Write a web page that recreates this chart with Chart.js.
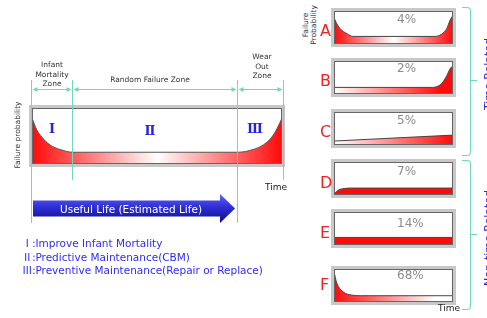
<!DOCTYPE html>
<html>
<head>
<meta charset="utf-8">
<title>Failure patterns</title>
<script src="https://cdn.jsdelivr.net/npm/chart.js@4.4.1/dist/chart.umd.min.js"></script>
<style>
  html, body { margin: 0; padding: 0; }
  body { position: relative; width: 487px; height: 318px; overflow: hidden; background: #fff; font-family: "DejaVu Sans", sans-serif; }
  canvas { position: absolute; }
  .t { position: absolute; white-space: nowrap; line-height: 1; }
  .c { transform: translate(-50%, -50%); text-align: center; }
  .r { transform: translate(-50%, -50%) rotate(-90deg); text-align: center; }
  .zone { font-size: 7.5px; color: #333; line-height: 9.5px; transform: translateX(-50%); text-align: center; }
  .roman { font: bold 13px "DejaVu Serif", serif; color: #2424e0; }
  .act { font-size: 10.5px; color: #2d2df2; left: 22px; transform: translateY(-50%); }
  .act span { font-family: "Noto Sans CJK JP", sans-serif; }
  .letter { font-size: 16px; color: #f02424; left: 320px; transform: translateY(-50%); }
  .share { font-size: 12px; color: #8c8c8c; left: 397px; transform: translateY(-50%); }
  .group { font-size: 11px; color: #2a2ae8; }
  .brace { position: absolute; border: 1px solid #6fd9bd; border-left: none; border-radius: 0 4px 4px 0; width: 8px; }
  .tick { position: absolute; border-top: 1px solid #6fd9bd; width: 6px; height: 0; }
</style>
</head>
<body>
<canvas id="main" width="300" height="318" style="left:0;top:0"></canvas>
<div id="minis"></div>

<div class="t zone" style="left:52px;top:60px">Infant<br>Mortality<br>Zone</div>
<div class="t zone" style="left:150px;top:75px">Random Failure Zone</div>
<div class="t zone" style="left:262px;top:52px">Wear<br>Out<br>Zone</div>
<div class="t r" style="left:18px;top:135px;font-size:7.5px;color:#333">Failure probability</div>
<div class="t" style="left:265px;top:183px;font-size:9px;color:#222">Time</div>
<div class="t c" style="left:131px;top:209px;font-size:10.5px;color:#fff">Useful Life (Estimated Life)</div>
<div id="romans"></div>
<div id="actions"></div>

<div class="t r" style="left:310px;top:25px;font-size:7.5px;line-height:8px;color:#333">Failure<br>Probability</div>
<div id="labels"></div>
<div class="t" style="left:438px;top:304px;font-size:9px;color:#222">Time</div>

<div class="brace" style="left:462px;top:7px;height:147px"></div>
<div class="tick" style="left:471px;top:80px"></div>
<div class="brace" style="left:462px;top:160px;height:148px"></div>
<div class="tick" style="left:471px;top:234px"></div>
<div class="t r group" style="left:488px;top:74px">Time Related</div>
<div class="t r group" style="left:488px;top:238px">Non-time Related</div>

<script>
// bathtub curve (x = % of life, y = % of box height)
const mainX = [0, 1.9, 3.9, 7.2, 11.2, 16.3, 82.5, 88.5, 92.5, 95.9, 98.1, 100];
const mainY = [82, 61, 48, 34, 26, 21, 21, 26, 34, 48, 64, 82];
const zoneEdges = [0, 16.4, 82.4, 100];
const romans = ['Ⅰ', 'Ⅱ', 'Ⅲ'];
const actions = ['Ⅰ:Improve Infant Mortality', 'Ⅱ:Predictive Maintenance(CBM)', 'Ⅲ:Preventive Maintenance(Repair or Replace)'];

// six failure patterns
const letters = ['A', 'B', 'C', 'D', 'E', 'F'];
const shares = ['4%', '2%', '5%', '7%', '14%', '68%'];
const patAx = [0, 1.7, 5, 11, 16, 85, 90.5, 94.7, 97.5, 100];
const patAy = [81, 66, 47, 31, 23, 23, 30, 46, 72, 87];
const patBx = [0, 83, 90.5, 94.7, 97.5, 100];
const patBy = [20, 20, 32, 55, 76, 86];
const patCx = [0, 100];
const patCy = [12, 30];
const patDx = [0, 2.3, 5, 9.2, 14, 100];
const patDy = [1, 11, 17, 20, 21, 21];
const patEx = [0, 100];
const patEy = [23, 23];
const patFx = [0, 2.3, 7.6, 14.9, 22, 100];
const patFy = [92, 58, 31, 21, 19, 19];

const TEAL = '#6fd9bd';
const RED = '#ff0a0a';

const pts = (xs, ys) => xs.map((x, i) => ({ x, y: ys[i] }));

function hGradient(stops) {
  return (c) => {
    const a = c.chart.chartArea;
    if (!a) return RED;
    const g = c.chart.ctx.createLinearGradient(a.left, 0, a.right, 0);
    stops.forEach(([o, col]) => g.addColorStop(o, col));
    return g;
  };
}
const redWhiteRed = [[0, RED], [0.5, '#ffffff'], [1, RED]];

// grey frame around a chart area
const frame = {
  id: 'frame',
  beforeDatasetsDraw(chart) {
    const { ctx, chartArea: a } = chart;
    ctx.save();
    ctx.strokeStyle = '#c8c8c8';
    ctx.lineWidth = 3;
    ctx.strokeRect(a.left - 1.5, a.top - 1.5, a.width + 3, a.height + 3);
    ctx.restore();
  },
  afterDatasetsDraw(chart) {
    const { ctx, chartArea: a } = chart;
    ctx.save();
    ctx.strokeStyle = '#666';
    ctx.lineWidth = 1;
    ctx.strokeRect(a.left + 0.5, a.top + 0.5, a.width - 1, a.height - 1);
    ctx.restore();
  }
};

// zone guides, dimension arrows and the useful life arrow
const zoneGuides = {
  id: 'zoneGuides',
  afterDraw(chart) {
    const { ctx, scales: { x } } = chart;
    ctx.save();
    ctx.strokeStyle = TEAL;
    ctx.fillStyle = TEAL;
    ctx.lineWidth = 1;
    const last = zoneEdges.length - 1;
    const edgePx = (i) => Math.round(x.getPixelForValue(zoneEdges[i])) + (i === last ? 1.5 : -0.5);
    zoneEdges.forEach((v, i) => {
      const px = edgePx(i);
      const long = i === 0 || i === 2;
      ctx.beginPath();
      ctx.moveTo(px, 80);
      ctx.lineTo(px, long ? 223 : 180);
      ctx.stroke();
    });
    const y = 89.5;
    const head = (px, dir) => {
      ctx.beginPath();
      ctx.moveTo(px, y);
      ctx.lineTo(px + dir * 5, y - 2.5);
      ctx.lineTo(px + dir * 5, y + 2.5);
      ctx.closePath();
      ctx.fill();
    };
    for (let i = 0; i < last; i++) {
      const x0 = edgePx(i) + 1;
      const x1 = edgePx(i + 1) - 1;
      ctx.beginPath();
      ctx.moveTo(x0 + 4, y);
      ctx.lineTo(x1 - 4, y);
      ctx.stroke();
      head(x0, 1);
      head(x1, -1);
    }

    // Useful Life arrow ends just before the wear-out boundary
    const ax0 = x.getPixelForValue(0) + 1;
    const tip = x.getPixelForValue(zoneEdges[2]) - 3;
    const base = tip - 15;
    const cy = 208.5;
    const g = ctx.createLinearGradient(0, cy - 14, 0, cy + 14);
    g.addColorStop(0, '#6262f0');
    g.addColorStop(0.45, '#2e2ed6');
    g.addColorStop(1, '#0e0e8a');
    ctx.fillStyle = g;
    ctx.beginPath();
    ctx.moveTo(ax0, cy - 8);
    ctx.lineTo(base, cy - 8);
    ctx.lineTo(base, cy - 14.5);
    ctx.lineTo(tip, cy);
    ctx.lineTo(base, cy + 14.5);
    ctx.lineTo(base, cy + 8);
    ctx.lineTo(ax0, cy + 8);
    ctx.closePath();
    ctx.fill();
    ctx.restore();
  }
};

function baseOptions(padding) {
  return {
    responsive: false,
    animation: false,
    layout: { padding },
    plugins: { legend: { display: false }, tooltip: { enabled: false } },
    scales: {
      x: { type: 'linear', min: 0, max: 100, display: false },
      y: { min: 0, max: 100, display: false }
    },
    elements: { point: { radius: 0 }, line: { cubicInterpolationMode: 'monotone' } }
  };
}

new Chart(document.getElementById('main'), {
  type: 'line',
  data: {
    datasets: [{
      data: pts(mainX, mainY),
      borderColor: '#555',
      borderWidth: 1,
      fill: 'origin',
      backgroundColor: hGradient(redWhiteRed)
    }]
  },
  options: baseOptions({ left: 32, right: 18, top: 108, bottom: 154 }),
  plugins: [frame, zoneGuides]
});

// small pattern charts
const patterns = [
  [patAx, patAy, hGradient(redWhiteRed)],
  [patBx, patBy, hGradient([[0, '#ffffff'], [0.9, RED], [1, RED]])],
  [patCx, patCy, hGradient([[0, '#ffffff'], [1, RED]])],
  [patDx, patDy, RED],
  [patEx, patEy, RED],
  [patFx, patFy, hGradient([[0, RED], [0.85, '#ffffff'], [1, '#ffffff']])]
];
const boxTops = [11, 61, 112, 162, 212, 269];
const letterY = [31, 80.5, 131.5, 182.5, 233, 284.5];
const shareY = [19, 68, 120, 171, 223, 275];
const minis = document.getElementById('minis');
const labels = document.getElementById('labels');

patterns.forEach(([xs, ys, fill], i) => {
  const cv = document.createElement('canvas');
  cv.width = 127;
  cv.height = 41;
  cv.style.left = '330px';
  cv.style.top = (boxTops[i] - 4) + 'px';
  minis.appendChild(cv);
  new Chart(cv, {
    type: 'line',
    data: {
      datasets: [{
        data: pts(xs, ys),
        borderColor: '#444',
        borderWidth: 1,
        fill: 'origin',
        backgroundColor: fill
      }]
    },
    options: baseOptions(4),
    plugins: [frame]
  });

  const l = document.createElement('div');
  l.className = 't letter';
  l.style.top = letterY[i] + 'px';
  l.textContent = letters[i];
  labels.appendChild(l);

  const s = document.createElement('div');
  s.className = 't share';
  s.style.top = shareY[i] + 'px';
  s.textContent = shares[i];
  labels.appendChild(s);
});

// roman numerals inside the zones and the maintenance key
const romanPos = [[52, 128], [150, 130], [255, 128]];
romans.forEach((r, i) => {
  const d = document.createElement('div');
  d.className = 't c roman';
  d.style.left = romanPos[i][0] + 'px';
  d.style.top = romanPos[i][1] + 'px';
  d.textContent = r;
  document.getElementById('romans').appendChild(d);
});
const actY = [243, 257, 270];
actions.forEach((a, i) => {
  const d = document.createElement('div');
  d.className = 't act';
  d.style.top = actY[i] + 'px';
  const num = document.createElement('span');
  num.textContent = a.slice(0, 2);
  d.appendChild(num);
  d.appendChild(document.createTextNode(a.slice(2)));
  document.getElementById('actions').appendChild(d);
});
</script>
</body>
</html>
